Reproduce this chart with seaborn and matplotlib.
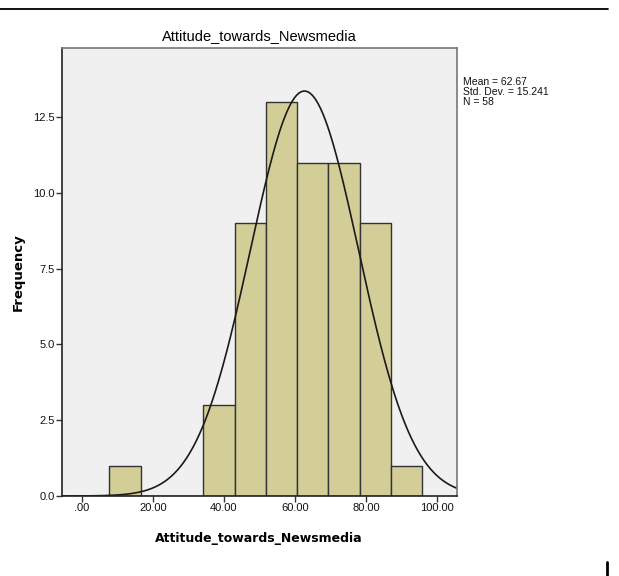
import numpy as np
import pandas as pd
import seaborn as sns
import matplotlib
matplotlib.use("Agg")
import matplotlib.pyplot as plt
from matplotlib.lines import Line2D

# ---- data ----
bin_edges = [7.8, 16.6, 25.4, 34.2, 43.0, 51.8, 60.6, 69.4, 78.2, 87.0, 95.8]
counts = [1, 0, 0, 3, 9, 13, 11, 11, 9, 1]
mean_val = 62.67
std_val = 15.241
n_val = 58
x_ticks = [0, 20, 40, 60, 80, 100]
x_tick_labels = [".00", "20.00", "40.00", "60.00", "80.00", "100.00"]
y_ticks = [0.0, 2.5, 5.0, 7.5, 10.0, 12.5]
y_tick_labels = ["0.0", "2.5", "5.0", "7.5", "10.0", "12.5"]
var_name = "Attitude_towards_Newsmedia"

sns.set_theme(style="white")
plt.rcParams["font.family"] = ["Liberation Sans", "DejaVu Sans"]
plt.rcParams["text.color"] = "black"
plt.rcParams["axes.labelcolor"] = "black"

centers = [(a + b) / 2 for a, b in zip(bin_edges[:-1], bin_edges[1:])]
df = pd.DataFrame({"x": centers, "w": counts})

fig = plt.figure(figsize=(6.19, 5.76), dpi=100)
ax = fig.add_axes([61.7 / 619, 1 - 496 / 576, (456.7 - 61.7) / 619, (496 - 48.3) / 576])
ax.set_facecolor("#F0F0F0")

sns.histplot(data=df, x="x", weights="w", bins=bin_edges, ax=ax,
             color="#D3CE97", edgecolor="#333333", linewidth=1.0, alpha=1.0)

# normal curve
binw = bin_edges[1] - bin_edges[0]
xs = np.linspace(-5.6, 105.5, 500)
ys = n_val * binw * np.exp(-0.5 * ((xs - mean_val) / std_val) ** 2) / (std_val * np.sqrt(2 * np.pi))
sns.lineplot(x=xs, y=ys, ax=ax, color="#1a1a1a", linewidth=1.2)

ax.set_xlim(-5.63, 105.5)
ax.set_ylim(0, 14.77)
ax.set_xticks(x_ticks)
ax.set_xticklabels(x_tick_labels)
ax.set_yticks(y_ticks)
ax.set_yticklabels(y_tick_labels)
ax.tick_params(axis="both", which="both", direction="out", length=4, width=1,
               color="#333333", labelsize=8, labelcolor="#111111", pad=1,
               bottom=True, left=True)

for s in ["left", "bottom"]:
    ax.spines[s].set_color("#222222")
    ax.spines[s].set_linewidth(1.2)
for s in ["top", "right"]:
    ax.spines[s].set_color("#777777")
    ax.spines[s].set_linewidth(1.2)

ax.set_xlabel(var_name, fontsize=9, fontweight="bold", family=["DejaVu Sans"], labelpad=14, color="black")
ax.set_ylabel("Frequency", fontsize=9.5, fontweight="bold", family=["DejaVu Sans"], labelpad=6, color="black")
ax.set_title(var_name, fontsize=10.5, pad=6, color="black")

fig.text(463 / 619, 1 - 77 / 576,
         f"Mean = {mean_val:.2f}\nStd. Dev. = {std_val:.3f}\nN = {n_val}",
         fontsize=7.5, va="top", ha="left", linespacing=1.0, color="#111111")

fig.add_artist(Line2D([0, 608 / 619], [1 - 9.3 / 576, 1 - 9.3 / 576], color="black", linewidth=1.3))
fig.add_artist(Line2D([606.7 / 619, 606.7 / 619], [0, (576 - 561.7) / 576], color="black", linewidth=2))

fig.savefig("out.png", dpi=100)
